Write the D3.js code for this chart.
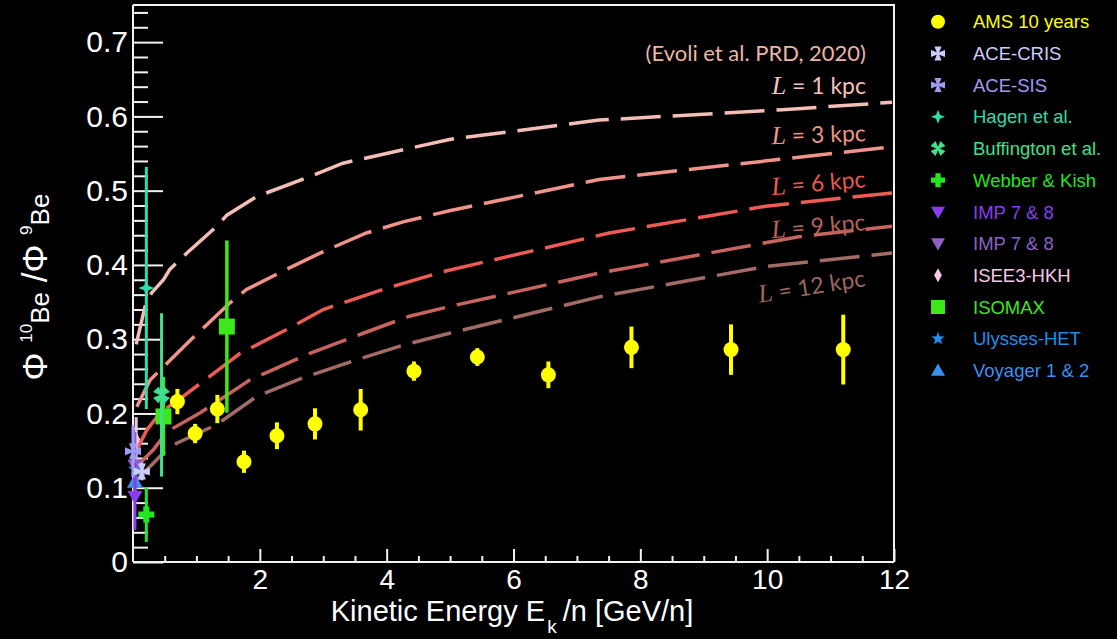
<!DOCTYPE html>
<html>
<head>
<meta charset="utf-8">
<script src="https://cdn.jsdelivr.net/npm/d3@7"></script>
<style>
  html, body { margin: 0; padding: 0; background: #000; }
  svg { display: block; }
</style>
</head>
<body>
<svg id="chart" width="1117" height="639"></svg>
<script>
// ---- data ----
const xTicks = [2, 4, 6, 8, 10, 12];
const yTicks = [0, 0.1, 0.2, 0.3, 0.4, 0.5, 0.6, 0.7];

const amsE   = [0.70, 0.98, 1.33, 1.75, 2.27, 2.87, 3.59, 4.43, 5.43, 6.55, 7.86, 9.43, 11.2];
const amsR   = [0.216, 0.173, 0.206, 0.135, 0.170, 0.186, 0.205, 0.257, 0.276, 0.252, 0.289, 0.286, 0.286];
const amsErr = [0.017, 0.013, 0.019, 0.015, 0.018, 0.021, 0.028, 0.013, 0.012, 0.018, 0.028, 0.034, 0.047];

const aceCrisE = [0.14], aceCrisR = [0.122], aceCrisErr = [0.012];
const aceSisE = [0.0], aceSisR = [0.149], aceSisErr = [0.035];
const hagenE = [0.21], hagenR = [0.369], hagenErr = [0.163];
const buffE = [0.45], buffR = [0.225], buffErr = [0.11];
const webberE = [0.21], webberR = [0.064], webberErr = [0.037];
const imp1E = [0.03], imp1R = [0.088], imp1Err = [0.045];
const imp2E = [0.03], imp2R = [0.13], imp2Err = [0.045];
const iseeE = [0.05], iseeR = [0.165], iseeErr = [0.03];
const isomaxE = [0.48, 1.48], isomaxR = [0.196, 0.317], isomaxErr = [0.053, 0.116];
const ulyssesE = [0.04], ulyssesR = [0.125], ulyssesErr = [0.025];
const voyagerE = [0.03], voyagerR = [0.108], voyagerErr = [0.02];

// model curves (Evoli et al. 2020), halo height L
const modelL = ['1', '3', '6', '9', '12'];
const l1E = [0.05, 0.19, 0.29, 0.48, 0.58, 0.74, 0.85, 1.32, 1.48, 1.95, 2.79, 3.31, 3.57, 4.99, 7.35, 10.24, 11.97];
const l1R = [0.293, 0.344, 0.362, 0.380, 0.394, 0.407, 0.416, 0.452, 0.467, 0.492, 0.519, 0.537, 0.542, 0.569, 0.595, 0.609, 0.619];
const l3E = [0.06, 0.27, 0.48, 0.92, 1.53, 1.79, 2.42, 3.00, 3.68, 4.26, 4.99, 7.35, 11.97];
const l3R = [0.209, 0.245, 0.263, 0.300, 0.349, 0.367, 0.394, 0.418, 0.443, 0.458, 0.473, 0.515, 0.559];
const l6E = [0.06, 0.22, 0.43, 0.79, 1.21, 1.69, 2.47, 3.00, 3.94, 4.89, 7.51, 9.98, 11.97];
const l6R = [0.151, 0.178, 0.201, 0.223, 0.250, 0.281, 0.315, 0.340, 0.367, 0.391, 0.443, 0.479, 0.497];
const l9E = [0.06, 0.32, 0.48, 0.63, 1.06, 1.84, 2.79, 3.63, 4.36, 4.99, 7.35, 10.50, 11.97];
const l9R = [0.129, 0.151, 0.169, 0.180, 0.201, 0.245, 0.281, 0.308, 0.331, 0.344, 0.389, 0.438, 0.452];
const l12E = [0.06, 0.32, 0.48, 0.69, 1.32, 1.95, 2.68, 3.52, 4.26, 4.99, 7.35, 9.98, 11.97];
const l12R = [0.111, 0.133, 0.147, 0.160, 0.185, 0.223, 0.248, 0.272, 0.292, 0.308, 0.357, 0.398, 0.416];

// ---- layout ----
const svg = d3.select('#chart');
const x = d3.scaleLinear().domain([0, 12]).range([133, 894]);
const y = d3.scaleLinear().domain([0, 0.75]).range([562, 5]);
const axisFont = 'Liberation Sans, Arial, sans-serif';

svg.append('rect').attr('width', 1117).attr('height', 639).attr('fill', '#000');

// frame (top and right)
svg.append('path')
  .attr('d', `M${x(0)},${y(0.75)}H${x(12)}V${y(0)}`)
  .attr('fill', 'none').attr('stroke', '#f2f2f2').attr('stroke-width', 2);

// y axis
const yMinor = d3.range(0, 0.7501, 0.02).filter(v => Math.abs(v * 10 - Math.round(v * 10)) > 1e-6);
svg.append('g')
  .attr('transform', `translate(${x(0)},0)`)
  .call(d3.axisLeft(y).tickValues(yMinor).tickSize(-15).tickFormat(''))
  .call(g => g.select('.domain').remove())
  .call(g => g.selectAll('.tick line').attr('stroke', '#f2f2f2').attr('stroke-width', 2));
svg.append('g')
  .attr('transform', `translate(${x(0)},0)`)
  .call(d3.axisLeft(y).tickValues(yTicks).tickSize(-30).tickSizeOuter(0).tickPadding(5).tickFormat(d => d === 0 ? '0' : d3.format('.1f')(d)))
  .call(g => g.select('.domain').attr('stroke', '#f2f2f2').attr('stroke-width', 2).attr('d', `M0,${y(0)}V${y(0.75)}`))
  .call(g => g.selectAll('.tick line').attr('stroke', '#f2f2f2').attr('stroke-width', 2))
  .call(g => g.selectAll('.tick text').attr('fill', '#fff').attr('font-size', 30).attr('font-family', axisFont));

// x axis
const xMinor = d3.range(0.5, 12, 0.5).filter(v => v % 2 !== 0);
svg.append('g')
  .attr('transform', `translate(0,${y(0)})`)
  .call(d3.axisBottom(x).tickValues(xMinor).tickSize(-6).tickFormat(''))
  .call(g => g.select('.domain').remove())
  .call(g => g.selectAll('.tick line').attr('stroke', '#f2f2f2').attr('stroke-width', 2));
svg.append('g')
  .attr('transform', `translate(0,${y(0)})`)
  .call(d3.axisBottom(x).tickValues(xTicks).tickSize(-13).tickSizeOuter(0).tickPadding(7))
  .call(g => g.select('.domain').attr('stroke', '#f2f2f2').attr('stroke-width', 2).attr('d', `M${x(0)},0H${x(12)}`))
  .call(g => g.selectAll('.tick line').attr('stroke', '#f2f2f2').attr('stroke-width', 2))
  .call(g => g.selectAll('.tick text').attr('fill', '#fff').attr('font-size', 28).attr('font-family', axisFont));

// axis titles
const xt = svg.append('text')
  .attr('x', 512).attr('y', 621)
  .attr('text-anchor', 'middle')
  .attr('fill', '#fff').attr('font-size', 29).attr('font-family', axisFont);
xt.append('tspan').text('Kinetic Energy E');
xt.append('tspan').attr('font-size', 19).attr('dy', 12).attr('dx', 2).text('k');
xt.append('tspan').attr('dy', -12).attr('dx', -2).text(' /n [GeV/n]');

const yt = svg.append('text')
  .attr('transform', 'translate(47,287) rotate(-90)')
  .attr('text-anchor', 'middle')
  .attr('fill', '#fff').attr('font-size', 35).attr('font-family', axisFont);
yt.append('tspan').text('Φ ');
yt.append('tspan').attr('font-size', 17).attr('dy', -15).text('10');
yt.append('tspan').attr('font-size', 26).attr('dy', 17).text('Be');
yt.append('tspan').attr('dy', -2).text(' /Φ ');
yt.append('tspan').attr('font-size', 17).attr('dy', -15).text('9');
yt.append('tspan').attr('font-size', 26).attr('dy', 17).text('Be');

// ---- model curves ----
const models = [
  { E: l1E, R: l1R, color: '#f4bdb5', text: '#f3c3bb', ly: 94, rot: 0 },
  { E: l3E, R: l3R, color: '#f0938a', text: '#ee9488', ly: 141, rot: -2 },
  { E: l6E, R: l6R, color: '#ee5b55', text: '#e85850', ly: 187, rot: -5 },
  { E: l9E, R: l9R, color: '#c7645f', text: '#b5625c', ly: 230, rot: -5 },
  { E: l12E, R: l12R, color: '#a26b66', text: '#9a6862', ly: 286, rot: -9 }
];
const line = d3.line().x(d => x(d[0])).y(d => y(d[1]));
models.forEach((m, i) => {
  svg.append('path')
    .datum(d3.zip(m.E, m.R))
    .attr('d', line)
    .attr('fill', 'none')
    .attr('stroke', m.color)
    .attr('stroke-width', 3.5)
    .attr('stroke-dasharray', '40,12');
  const t = svg.append('text')
    .attr('transform', `translate(866,${m.ly}) rotate(${m.rot})`)
    .attr('text-anchor', 'end')
    .attr('fill', m.text).attr('font-size', 23).attr('font-family', 'Lato, sans-serif');
  t.append('tspan').attr('font-family', 'Liberation Serif, serif').attr('font-style', 'italic').attr('font-size', 26).text('L');
  t.append('tspan').text(' = ' + modelL[i] + ' kpc');
});

svg.append('text')
  .attr('x', 866).attr('y', 61)
  .attr('text-anchor', 'end')
  .attr('fill', '#eab6a6').attr('font-size', 22).attr('font-family', 'Lato, sans-serif')
  .text('(Evoli et al. PRD, 2020)');

// ---- markers ----
function poly(pts) { return 'M' + pts.map(p => p.join(',')).join('L') + 'Z'; }
function markerPath(shape, s) {
  switch (shape) {
    case 'circle': return d3.symbol(d3.symbolCircle, Math.PI * s * s)();
    case 'square': return poly([[-s, -s], [s, -s], [s, s], [-s, s]]);
    case 'triUp': return poly([[0, -s], [s, s * 0.75], [-s, s * 0.75]]);
    case 'triDown': return poly([[0, s], [s, -s * 0.75], [-s, -s * 0.75]]);
    case 'diamond': return poly([[0, -s], [s * 0.55, 0], [0, s], [-s * 0.55, 0]]);
    case 'plus': {
      const w = s * 0.38;
      return poly([[-w, -s], [w, -s], [w, -w], [s, -w], [s, w], [w, w], [w, s], [-w, s], [-w, w], [-s, w], [-s, -w], [-w, -w]]);
    }
    case 'maltese': {
      const c = s * 0.18, w = s * 0.5;
      return poly([[c, -c], [w, -s], [-w, -s], [-c, -c], [-s, -w], [-s, w], [-c, c], [-w, s], [w, s], [c, c], [s, w], [s, -w]]);
    }
    case 'star4': {
      const c = s * 0.28;
      return poly([[0, -s], [c, -c], [s, 0], [c, c], [0, s], [-c, c], [-s, 0], [-c, -c]]);
    }
    case 'star5': {
      const pts = [];
      for (let k = 0; k < 10; k++) {
        const r = k % 2 === 0 ? s : s * 0.42;
        const a = -Math.PI / 2 + k * Math.PI / 5;
        pts.push([r * Math.cos(a), r * Math.sin(a)]);
      }
      return poly(pts);
    }
  }
}

const experiments = [
  { name: 'AMS 10 years', E: amsE, R: amsR, err: amsErr, color: '#ffff00', shape: 'circle', size: 7.5, lw: 4 },
  { name: 'ACE-CRIS', E: aceCrisE, R: aceCrisR, err: aceCrisErr, color: '#ccccff', shape: 'maltese', size: 8, lw: 3 },
  { name: 'ACE-SIS', E: aceSisE, R: aceSisR, err: aceSisErr, color: '#a09cf5', shape: 'maltese', size: 8, lw: 3 },
  { name: 'Hagen et al.', E: hagenE, R: hagenR, err: hagenErr, color: '#2fdcaa', shape: 'star4', size: 8, lw: 3 },
  { name: 'Buffington et al.', E: buffE, R: buffR, err: buffErr, color: '#3ee08e', shape: 'maltese', size: 8, lw: 3, rot: 45 },
  { name: 'Webber & Kish', E: webberE, R: webberR, err: webberErr, color: '#22e622', shape: 'plus', size: 8, lw: 3 },
  { name: 'IMP 7 & 8', E: imp1E, R: imp1R, err: imp1Err, color: '#8a3cf0', shape: 'triDown', size: 7.5, lw: 3 },
  { name: 'IMP 7 & 8', E: imp2E, R: imp2R, err: imp2Err, color: '#8c62c8', shape: 'triDown', size: 7.5, lw: 3 },
  { name: 'ISEE3-HKH', E: iseeE, R: iseeR, err: iseeErr, color: '#f6c8e8', shape: 'diamond', size: 7.5, lw: 3 },
  { name: 'ISOMAX', E: isomaxE, R: isomaxR, err: isomaxErr, color: '#3ce81a', shape: 'square', size: 8, lw: 3.5 },
  { name: 'Ulysses-HET', E: ulyssesE, R: ulyssesR, err: ulyssesErr, color: '#1e8ee8', shape: 'star5', size: 8, lw: 3 },
  { name: 'Voyager 1 & 2', E: voyagerE, R: voyagerR, err: voyagerErr, color: '#3a90f0', shape: 'triUp', size: 8, lw: 3 }
];

// data points, drawn so AMS ends up on top
experiments.slice().reverse().forEach(ex => {
  const pts = d3.zip(ex.E, ex.R, ex.err);
  const g = svg.append('g');
  g.selectAll('line').data(pts).join('line')
    .attr('x1', d => x(d[0])).attr('x2', d => x(d[0]))
    .attr('y1', d => y(d[1] - d[2])).attr('y2', d => y(d[1] + d[2]))
    .attr('stroke', ex.color).attr('stroke-width', ex.lw);
  g.selectAll('path').data(pts).join('path')
    .attr('d', markerPath(ex.shape, ex.size))
    .attr('transform', d => `translate(${x(d[0])},${y(d[1])}) rotate(${ex.rot || 0})`)
    .attr('fill', ex.color);
});

// ---- legend ----
const legend = svg.append('g');
experiments.forEach((ex, i) => {
  const ly = 21.7 + i * 31.7;
  legend.append('path')
    .attr('d', markerPath(ex.shape, 7))
    .attr('transform', `translate(938,${ly}) rotate(${ex.rot || 0})`)
    .attr('fill', ex.color);
  legend.append('text')
    .attr('x', 973).attr('y', ly).attr('dy', '0.36em')
    .attr('fill', ex.color).attr('font-size', 18.5).attr('font-family', axisFont)
    .text(ex.name);
});
</script>
</body>
</html>
